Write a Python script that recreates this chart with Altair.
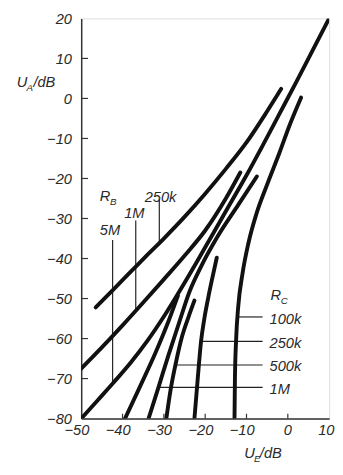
import altair as alt
import pandas as pd

# ---- data ----
# R_B family
rb250k_x = [-46.5, -42, -38, -34, -30, -25, -20, -15, -10, -5, -1.6]
rb250k_y = [-52.2, -47.5, -43.3, -39.1, -35, -29.6, -23.8, -17.6, -11, -3.2, 2.4]
rb1m_x = [-50, -45, -40, -35, -30, -25, -20, -15, -11.5]
rb1m_y = [-67.5, -62.2, -56.7, -51, -45.2, -39.3, -33, -25, -18.5]
rb5m_x = [-50, -46, -42, -38, -34, -30, -26, -22, -18, -14, -10, -6, -2, 2, 6, 10]
rb5m_y = [-80, -75.4, -70.8, -66, -60.6, -54.5, -47.8, -40.8, -33.6, -26.4, -19.2, -11.6, -3.8, 4, 12, 20]
# short curve starting near -39 dB, ending on the 5M curve
rx_x = [-39.4, -36, -32, -29, -26.6]
rx_y = [-80, -72.5, -63.5, -56, -49.3]
# R_C family
rc1m_x = [-33.7, -31.4, -28.9, -26.3, -23.8, -21, -17, -12, -7.5]
rc1m_y = [-80, -72.5, -64.2, -56, -48.3, -42, -34.5, -26.6, -19.5]
rc500k_x = [-29.4, -28.4, -27.2, -25.6, -24.0, -22.6]
rc500k_y = [-80, -73, -66.6, -59.5, -54.5, -50.5]
rc250k_x = [-22.6, -21.8, -21, -20.2, -19.3, -18.3, -17.2]
rc250k_y = [-80, -70, -60.7, -55, -50, -45, -39.8]
rc100k_x = [-12.9, -12.8, -12.5, -12, -11, -9.5, -7.5, -5, -2, 0.5, 3.2]
rc100k_y = [-80, -70, -60, -52, -44, -36, -28.5, -21.5, -13.5, -6.5, 0.2]

x_ticks = [-50, -40, -30, -20, -10, 0, 10]
x_tick_labels = ["\u221250", "\u221240", "\u221230", "\u221220", "\u221210", "0", "10"]
y_ticks = [-80, -70, -60, -50, -40, -30, -20, -10, 0, 10, 20]

# leader lines of the parameter labels
rb_ptr_x = [-42.4, -36.8, -31.1]
rb_ptr_y1 = [-35.4, -30.5, -25.1]
rb_ptr_y2 = [-71.2, -53.2, -35.9]
rc_ptr_y = [-54.6, -60.7, -66.6, -72.2]
rc_ptr_x1 = [-12.2, -21.0, -27.2, -31.3]
rc_ptr_x2 = [-6.1, -6.1, -6.1, -6.1]

curves = {
    "rb250k": (rb250k_x, rb250k_y),
    "rb1m": (rb1m_x, rb1m_y),
    "rb5m": (rb5m_x, rb5m_y),
    "rx": (rx_x, rx_y),
    "rc1m": (rc1m_x, rc1m_y),
    "rc500k": (rc500k_x, rc500k_y),
    "rc250k": (rc250k_x, rc250k_y),
    "rc100k": (rc100k_x, rc100k_y),
}
rows = []
for name, (xs_, ys_) in curves.items():
    for i, (a, b) in enumerate(zip(xs_, ys_)):
        rows.append({"curve": name, "i": i, "x": a, "y": b})
df = pd.DataFrame(rows)

W, H = 254, 410
FONT = "Liberation Sans"
INK = "#111111"
TXT = "#2a2a2a"

xs = alt.Scale(domain=[-50, 10], nice=False, zero=False)
ys = alt.Scale(domain=[-80, 20], nice=False, zero=False)

x_axis = alt.Axis(values=x_ticks, ticks=False, labels=False, title=None, grid=False,
                  domainColor="#333", domainWidth=1.5)
y_axis = alt.Axis(values=y_ticks, ticks=False, labelPadding=10, title=None, grid=False,
                  domainColor="#333", domainWidth=1.5, labelFont=FONT, labelFontSize=15,
                  labelFontStyle="italic", labelColor=TXT, labelFlush=False,
                  labelOverlap=False, format="d")

lines = alt.Chart(df).mark_line(color=INK, strokeWidth=4, strokeCap="round",
                                strokeJoin="round", interpolate="monotone", clip=True).encode(
    x=alt.X("x:Q", scale=xs, axis=x_axis),
    y=alt.Y("y:Q", scale=ys, axis=y_axis),
    detail="curve:N",
    order="i:Q",
)

xt = alt.Chart(pd.DataFrame({"v": x_ticks[1:-1]})).mark_rule(color="#333", strokeWidth=1.2).encode(
    x=alt.X("v:Q", scale=xs), y=alt.value(H), y2=alt.value(H - 5))
yt = alt.Chart(pd.DataFrame({"v": y_ticks[1:-1]})).mark_rule(color="#333", strokeWidth=1.2).encode(
    y=alt.Y("v:Q", scale=ys), x=alt.value(0), x2=alt.value(7))

# x tick labels: digits centred on the tick, minus sign hanging to the left
xl = pd.DataFrame({"v": x_ticks, "t": x_tick_labels})
xl_neg = alt.Chart(xl[xl["v"] < 0]).mark_text(
    align="center", baseline="top", dx=-4.4, font=FONT, fontSize=15, fontStyle="italic",
    color=TXT).encode(x=alt.X("v:Q", scale=xs), y=alt.value(H + 5), text="t:N")
xl_zero = alt.Chart(xl[xl["v"] == 0]).mark_text(
    align="center", baseline="top", font=FONT, fontSize=15, fontStyle="italic",
    color=TXT).encode(x=alt.X("v:Q", scale=xs), y=alt.value(H + 5), text="t:N")
xl_pos = alt.Chart(xl[xl["v"] > 0]).mark_text(
    align="right", baseline="top", dx=5.5, font=FONT, fontSize=15, fontStyle="italic",
    color=TXT).encode(x=alt.X("v:Q", scale=xs), y=alt.value(H + 5), text="t:N")

rbp = alt.Chart(pd.DataFrame({"x": rb_ptr_x, "y1": rb_ptr_y1, "y2": rb_ptr_y2})).mark_rule(
    color="#222", strokeWidth=1.2).encode(
    x=alt.X("x:Q", scale=xs), y=alt.Y("y1:Q", scale=ys), y2="y2:Q")
rcp = alt.Chart(pd.DataFrame({"y": rc_ptr_y, "x1": rc_ptr_x1, "x2": rc_ptr_x2})).mark_rule(
    color="#222", strokeWidth=1.2).encode(
    y=alt.Y("y:Q", scale=ys), x=alt.X("x1:Q", scale=xs), x2="x2:Q")

# annotation texts (pixel layout inside the plot area)
labels = pd.DataFrame([
    {"t": "R", "px": 19, "py": 187, "fs": 15},
    {"t": "B", "px": 29.5, "py": 191, "fs": 10},
    {"t": "250k", "px": 65, "py": 188, "fs": 15},
    {"t": "1M", "px": 44, "py": 204, "fs": 15},
    {"t": "5M", "px": 19, "py": 222, "fs": 15},
    {"t": "R", "px": 194, "py": 289, "fs": 15},
    {"t": "C", "px": 204.5, "py": 293, "fs": 10},
    {"t": "100k", "px": 193, "py": 313, "fs": 15},
    {"t": "250k", "px": 193, "py": 338, "fs": 15},
    {"t": "500k", "px": 193, "py": 361, "fs": 15},
    {"t": "1M", "px": 193, "py": 385, "fs": 15},
    {"t": "U", "px": -66, "py": 70, "fs": 15},
    {"t": "A", "px": -56, "py": 74, "fs": 10},
    {"t": "/dB", "px": -49, "py": 70, "fs": 15},
    {"t": "U", "px": 167, "py": 450, "fs": 15},
    {"t": "E", "px": 177, "py": 454, "fs": 10},
    {"t": "/dB", "px": 183, "py": 450, "fs": 15},
])
txt = alt.Chart(labels).mark_text(align="left", baseline="alphabetic", font=FONT,
                                  fontStyle="italic", color=TXT).encode(
    x=alt.X("px:Q", scale=None), y=alt.Y("py:Q", scale=None),
    size=alt.Size("fs:Q", scale=None, legend=None), text="t:N")

chart = alt.layer(xt, yt, rbp, rcp, lines, xl_neg, xl_zero, xl_pos, txt).properties(
    width=W, height=H,
    autosize=alt.AutoSizeParams(type="none"),
    padding={"left": 75, "top": 5, "right": 6, "bottom": 47},
).configure_view(stroke="#8a8a8a", strokeWidth=1.2).configure(background="white")

chart.save("out.html", embed_options={"renderer": "svg", "actions": False})
